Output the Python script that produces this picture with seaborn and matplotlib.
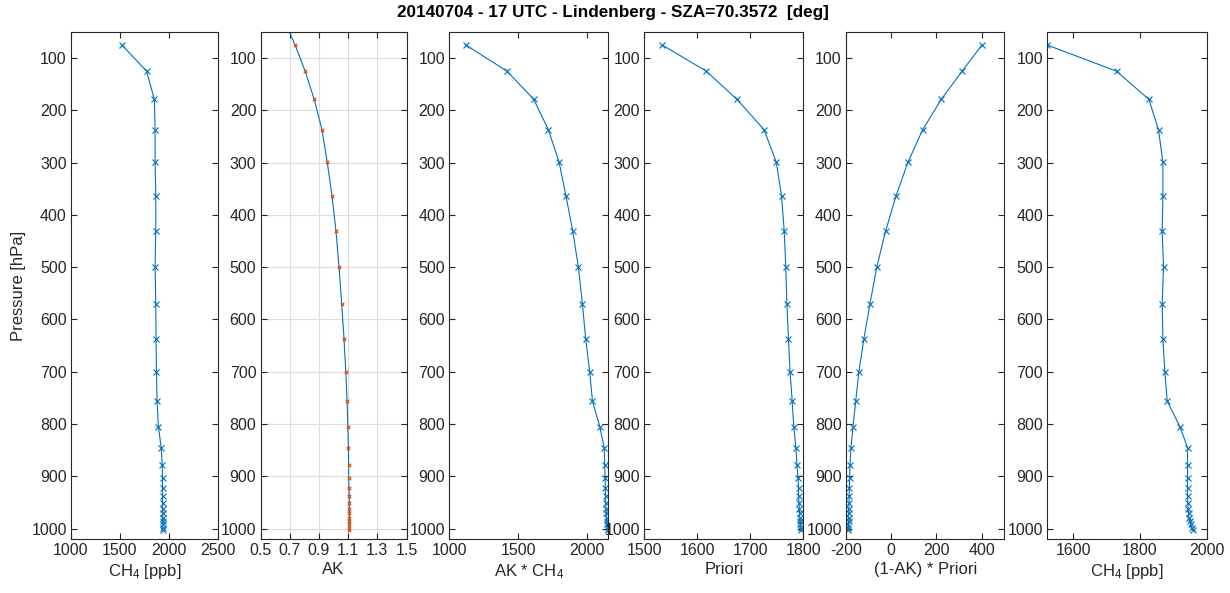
import numpy as np
import matplotlib
matplotlib.use('Agg')
import matplotlib.pyplot as plt
import seaborn as sns

sns.set_style('ticks')
plt.rcParams['font.family'] = ['Liberation Sans', 'DejaVu Sans']
plt.rcParams['mathtext.fontset'] = 'custom'
plt.rcParams['mathtext.rm'] = 'Liberation Sans'
plt.rcParams['mathtext.it'] = 'Liberation Sans'
plt.rcParams['axes.unicode_minus'] = False
plt.rcParams['font.size'] = 11

# pressure levels [hPa]
pressure = [75, 125, 179, 237, 299, 364, 431, 500, 570, 637, 700, 756, 805, 845,
            878, 903, 923, 938, 951, 962, 971, 979, 986, 992, 998, 1003]

# CH4 input profile [ppb]
ch4 = [1521, 1771, 1851, 1858, 1858, 1865, 1865, 1858, 1865, 1868, 1872, 1878, 1892,
       1920, 1931, 1934, 1934, 1934, 1935, 1936, 1937, 1937, 1938, 1938, 1938, 1938]

# averaging kernel at levels
ak = [0.737, 0.806, 0.868, 0.921, 0.957, 0.990, 1.017, 1.038, 1.056, 1.072, 1.084,
      1.093, 1.098, 1.102, 1.104, 1.104, 1.106, 1.108, 1.108, 1.108, 1.109, 1.109,
      1.109, 1.109, 1.109, 1.109]
# fine AK curve (blue line)
ak_line_p = [50, 75, 125, 179, 237, 299, 364, 431, 500, 570, 637, 700, 756, 805,
             845, 878, 903, 923, 938, 1003]
ak_line = [0.698, 0.737, 0.806, 0.868, 0.921, 0.957, 0.990, 1.017, 1.038, 1.056,
           1.072, 1.084, 1.093, 1.098, 1.102, 1.104, 1.104, 1.106, 1.108, 1.109]

ak_ch4 = [1121, 1419, 1613, 1719, 1797, 1847, 1896, 1937, 1966, 1990, 2019, 2039,
          2092, 2124, 2128, 2131, 2133, 2134, 2135, 2137, 2139, 2141, 2143, 2146,
          2150, 2154]

priori = [1534, 1617, 1675, 1726, 1749, 1759, 1764, 1767, 1769, 1772, 1775, 1779,
          1782, 1786, 1788, 1790, 1791, 1791, 1792, 1792.5, 1793, 1793.5, 1794,
          1794.5, 1795, 1795.5]

one_minus_ak_priori = [401, 313, 221, 139, 74, 21, -25, -64, -94, -121, -143, -157,
                       -169, -178, -182, -184, -185, -186, -186.5, -187, -187.5, -188,
                       -188.5, -189, -189.5, -190]

ch4_ret = [1522, 1730, 1827, 1856, 1869, 1869, 1867, 1871, 1867, 1869, 1875, 1882,
           1920, 1943, 1943, 1943, 1943, 1943, 1944, 1945, 1946, 1948, 1950, 1952,
           1956, 1960]

xlabels = ['CH$_4$ [ppb]', 'AK', 'AK * CH$_4$', 'Priori', '(1-AK) * Priori', 'CH$_4$ [ppb]']
xlims = [(1000, 2500), (0.5, 1.5), (1000, max(ak_ch4)), (1500, 1800), (-200, 500),
         (min(ch4_ret), 2000)]
xticks = [[1000, 1500, 2000, 2500], [0.5, 0.7, 0.9, 1.1, 1.3, 1.5], [1000, 1500, 2000],
          [1500, 1600, 1700, 1800], [-200, 0, 200, 400], [1600, 1800, 2000]]
xticklabels = [None, ['0.5', '0.7', '0.9', '1.1', '1.3', '1.5'], None, None, None, None]
yticks = [100, 200, 300, 400, 500, 600, 700, 800, 900, 1000]

BLUE = '#0072BD'
ORANGE = '#D95319'
AXC = '#262626'

W, H = 1230, 593
fig = plt.figure(figsize=(W / 100, H / 100), dpi=100)

# panel edges in pixels (left, right)
edges = [(71, 218), (260.5, 406.5), (449.3, 608.3), (644.3, 803.3), (846, 1004.3), (1047.3, 1206.5)]
top_px, bot_px = 32, 539

series = [ch4, None, ak_ch4, priori, one_minus_ak_priori, ch4_ret]

for i, (l, r) in enumerate(edges):
    ax = fig.add_axes([l / W, 1 - bot_px / H, (r - l) / W, (bot_px - top_px) / H])
    if i == 1:
        ax.grid(True, color='#DCDCDC', linewidth=0.8)
        ax.set_axisbelow(True)
        sns.lineplot(x=ak_line, y=ak_line_p, sort=False, estimator=None, ax=ax,
                     color=BLUE, linewidth=0.8)
        sns.scatterplot(x=ak, y=pressure, ax=ax, marker='x', color=ORANGE,
                        s=6, linewidth=0.9, zorder=3)
    else:
        sns.lineplot(x=series[i], y=pressure, sort=False, estimator=None, ax=ax,
                     color=BLUE, linewidth=0.8, marker='x', markersize=4.5,
                     markeredgewidth=0.8, markeredgecolor=BLUE)
    ax.set_ylim(1020, 50)
    ax.set_xlim(*xlims[i])
    ax.set_yticks(yticks)
    ax.set_xticks(xticks[i])
    if xticklabels[i] is not None:
        ax.set_xticklabels(xticklabels[i])
    ax.set_xlabel(xlabels[i], fontsize=12, color=AXC, labelpad=3)
    ax.set_ylabel('')
    for s in ax.spines.values():
        s.set_visible(True)
        s.set_color(AXC)
        s.set_linewidth(0.8)
    ax.tick_params(direction='in', length=4, width=0.8, colors=AXC, top=True, right=True,
                   labelsize=11.5, pad=3)
    ax.set_facecolor('white')

fig.text(19 / W, 1 - 285.5 / H, 'Pressure [hPa]', rotation=90, ha='center', va='center',
         fontsize=12, color=AXC)
fig.text(613 / W, 1 - 12 / H, '20140704 - 17 UTC - Lindenberg - SZA=70.3572  [deg]',
         ha='center', va='center', fontsize=12.3, fontweight='bold', color='black')

fig.savefig('out.png', dpi=100, facecolor='white')
